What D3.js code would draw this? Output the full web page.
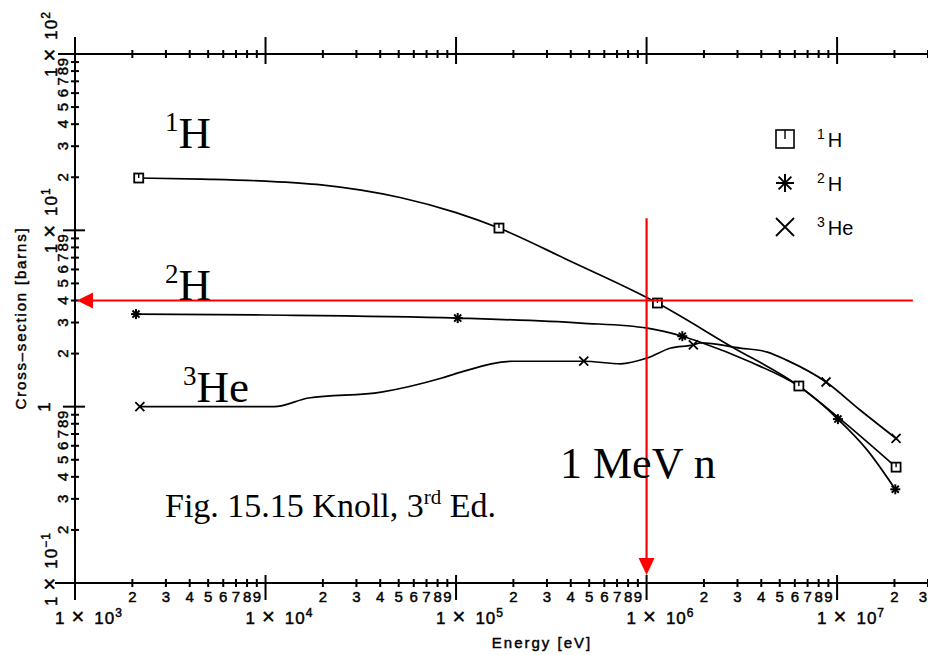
<!DOCTYPE html>
<html>
<head>
<meta charset="utf-8">
<script src="https://cdn.jsdelivr.net/npm/d3@7"></script>
<style>
  body { margin: 0; background: #fff; }
  svg { display: block; }
</style>
</head>
<body>
<svg id="chart" width="928" height="655"></svg>
<script>
// measured points (energy in eV, cross-section in barns)
const h1E = [2.16e3, 1.68e5, 1.14e6, 6.3e6, 2.04e7]
const h1S = [19.8, 10.3, 3.87, 1.31, 0.454]
const h2E = [2.09e3, 1.02e5, 1.54e6, 1.01e7, 2.02e7]
const h2S = [3.35, 3.18, 2.51, 0.85, 0.34]
const he3E = [2.19e3, 4.68e5, 1.76e6, 8.75e6, 2.04e7]
const he3S = [1.0, 1.81, 2.24, 1.38, 0.66]

// the drawn curves
const h1LineE = [2.16e3, 4.6e3, 1e4, 1.96e4, 3.18e4, 5.15e4, 1e5, 1.68e5, 3.86e5, 1.14e6, 2.75e6, 6.3e6, 1.01e7, 2.04e7]
const h1LineS = [19.8, 19.5, 19.0, 18.1, 16.9, 15.3, 12.6, 10.3, 6.79, 3.87, 2.21, 1.31, 0.873, 0.454]
const h2LineE = [2.09e3, 1e4, 1.02e5, 4.51e5, 1.01e6, 1.54e6, 1.92e6, 3.51e6, 6.4e6, 1.01e7, 1.44e7, 2.02e7]
const h2LineS = [3.35, 3.31, 3.18, 2.98, 2.79, 2.51, 2.32, 1.79, 1.29, 0.85, 0.567, 0.34]
const he3LineE = [2.19e3, 1.11e4, 1.68e4, 4.05e4, 8.34e4, 1.06e5, 2.01e5, 4.68e5, 7.31e5, 1.01e6, 1.34e6, 1.76e6, 1.92e6, 3.1e6, 4.3e6, 5.47e6, 8.75e6, 1.32e7, 2.04e7]
const he3LineS = [1.0, 1.0, 1.12, 1.21, 1.45, 1.57, 1.81, 1.81, 1.75, 1.89, 2.15, 2.24, 2.3, 2.15, 2.04, 1.83, 1.38, 0.957, 0.66]

// legend
const legendSup = ["1", "2", "3"]
const legendBase = ["H", "H", "He"]
const legendSymbols = ["square", "asterisk", "cross"]

// axes
const xDecades = [1e3, 1e4, 1e5, 1e6, 1e7]
const xExponents = ["3", "4", "5", "6", "7"]
const yDecades = [0.1, 1, 10, 100]
const yExponents = ["\u22121", "", "1", "2"]
const minorDigits = [2, 3, 4, 5, 6, 7, 8, 9]

// red annotation: 1 MeV neutron -> ~4 barns
const markEnergy = 1e6
const markSigma = 4
const arrowEndE = 2.5e7
const arrowTopS = 11.7
const arrowTipS = 0.111

const svg = d3.select("#chart")
const sans = "'Liberation Sans', Arial, sans-serif"
const serif = "'Liberation Serif', 'Times New Roman', serif"

const x = d3.scaleLog().domain([1e3, 3e7]).range([75, 928])
const y = d3.scaleLog().domain([0.1, 100]).range([583, 54])

const x0 = x(1e3), xEnd = 928
const yBot = y(0.1), yTop = y(100)

const ax = svg.append("g").attr("stroke", "#000").attr("stroke-width", 2).attr("fill", "none")

// axis lines
ax.append("line").attr("x1", x0 - 20).attr("x2", xEnd).attr("y1", yBot).attr("y2", yBot)
ax.append("line").attr("x1", x0 - 17).attr("x2", xEnd).attr("y1", yTop).attr("y2", yTop)
ax.append("line").attr("x1", x0).attr("x2", x0).attr("y1", yTop - 17).attr("y2", yBot + 17)

// x ticks (bottom + top)
const xMinor = []
xDecades.forEach(d => minorDigits.forEach(k => { if (k * d <= 3e7) xMinor.push({ v: k * d, k: k }) }))

ax.selectAll(".xmaj").data(xDecades).enter().append("g").each(function (d) {
  const g = d3.select(this)
  g.append("line").attr("x1", x(d)).attr("x2", x(d)).attr("y1", yBot - 8).attr("y2", yBot + 17)
  g.append("line").attr("x1", x(d)).attr("x2", x(d)).attr("y1", yTop - 17).attr("y2", yTop + 10)
})
ax.selectAll(".xmin").data(xMinor).enter().append("g").each(function (d) {
  const g = d3.select(this)
  g.append("line").attr("x1", x(d.v)).attr("x2", x(d.v)).attr("y1", yBot - 4).attr("y2", yBot + 4)
  g.append("line").attr("x1", x(d.v)).attr("x2", x(d.v)).attr("y1", yTop - 4).attr("y2", yTop + 4)
})

// y ticks
const yMinor = []
yDecades.slice(0, 3).forEach(d => minorDigits.forEach(k => yMinor.push({ v: k * d, k: k })))

ax.selectAll(".ymaj").data(yDecades).enter().append("line")
  .attr("x1", x0 - 12).attr("x2", x0 + 10).attr("y1", d => y(d)).attr("y2", d => y(d))
ax.selectAll(".ymin").data(yMinor).enter().append("line")
  .attr("x1", x0 - 4).attr("x2", x0 + 4).attr("y1", d => y(d.v)).attr("y2", d => y(d.v))

// tick labels
const lab = svg.append("g").attr("font-family", sans).attr("fill", "#000")
  .attr("stroke", "#000").attr("stroke-width", 0.45)

lab.selectAll(".xd").data(xMinor).enter().append("text")
  .attr("x", d => x(d.v) > 918 ? 927 : x(d.v)).attr("y", yBot + 19)
  .attr("text-anchor", d => x(d.v) > 918 ? "end" : "middle").attr("font-size", 15)
  .text(d => d.k)

const xl = lab.selectAll(".xl").data(xDecades).enter().append("text")
  .attr("x", d => x(d) - 20).attr("y", yBot + 41)
  .attr("font-size", 17).attr("letter-spacing", 1)
xl.append("tspan").text("1")
xl.append("tspan").attr("dx", 6).attr("font-size", 22).text("\u00d7")
xl.append("tspan").attr("dx", 9).text("10")
xl.append("tspan").attr("dy", -7).attr("font-size", 12).text((d, i) => xExponents[i])

lab.selectAll(".yd").data(yMinor).enter().append("text")
  .attr("transform", d => `translate(${x0 - 7},${y(d.v)}) rotate(-90)`)
  .attr("text-anchor", "middle").attr("font-size", 15)
  .text(d => d.k)

const yl = lab.selectAll(".yl").data(yDecades).enter().append("text")
  .attr("transform", d => d === 1
    ? `translate(${x0 - 25},${y(d) + 5}) rotate(-90)`
    : `translate(${x0 - 18},${y(d) + 23}) rotate(-90)`)
  .attr("font-size", 17).attr("letter-spacing", 1)
yl.append("tspan").text("1")
yl.append("tspan").attr("dx", 5).attr("font-size", 22).text(d => d === 1 ? "" : "\u00d7")
yl.append("tspan").attr("dx", 8).text(d => d === 1 ? "" : "10")
yl.append("tspan").attr("dy", -7).attr("font-size", 12).text((d, i) => yExponents[i])

lab.append("text").attr("x", 542).attr("y", 648).attr("text-anchor", "middle")
  .attr("font-size", 15).attr("letter-spacing", 2).attr("xml:space", "preserve").text("Energy [eV]")
lab.append("text").attr("transform", "translate(26,318) rotate(-90)").attr("text-anchor", "middle")
  .attr("font-size", 15).attr("letter-spacing", 1.8).attr("xml:space", "preserve").text("Cross\u2013section [barns]")

// curves
const line = d3.line().x(d => x(d[0])).y(d => y(d[1])).curve(d3.curveMonotoneX)
const curves = [
  d3.zip(h1LineE, h1LineS),
  d3.zip(h2LineE, h2LineS),
  d3.zip(he3LineE, he3LineS)
]
svg.append("g").selectAll("path").data(curves).enter().append("path")
  .attr("d", line).attr("fill", "none").attr("stroke", "#000").attr("stroke-width", 1.7)

// marker symbols
function drawSymbol(g, type, cx, cy, s) {
  const h = s / 2
  if (type === "square") {
    g.append("rect").attr("x", cx - h).attr("y", cy - h).attr("width", s).attr("height", s)
      .attr("fill", "#fff").attr("stroke", "#000").attr("stroke-width", s > 10 ? 1.6 : 1.8)
    g.append("line").attr("x1", cx).attr("x2", cx).attr("y1", cy - h).attr("y2", cy)
      .attr("stroke", "#000").attr("stroke-width", 1.4)
  } else if (type === "asterisk") {
    [0, 45, 90, 135].forEach(a => {
      const r = a * Math.PI / 180
      g.append("line").attr("x1", cx - h * Math.cos(r)).attr("y1", cy - h * Math.sin(r))
        .attr("x2", cx + h * Math.cos(r)).attr("y2", cy + h * Math.sin(r))
        .attr("stroke", "#000").attr("stroke-width", 2)
    })
  } else {
    g.append("path").attr("d", `M${cx - h},${cy - h}L${cx + h},${cy + h}M${cx - h},${cy + h}L${cx + h},${cy - h}`)
      .attr("stroke", "#000").attr("stroke-width", 1.8).attr("fill", "none")
  }
}

const marks = svg.append("g")
const pointSets = [d3.zip(h1E, h1S), d3.zip(h2E, h2S), d3.zip(he3E, he3S)]
pointSets.forEach((pts, i) => {
  pts.forEach(p => drawSymbol(marks, legendSymbols[i], x(p[0]), y(p[1]), i === 1 ? 10 : 9))
})

// legend
const leg = svg.append("g")
legendSymbols.forEach((t, i) => {
  const cy = 139 + i * 44
  drawSymbol(leg, t, 785, cy, 18)
  const tx = leg.append("text").attr("x", 817).attr("y", cy + 8)
    .attr("font-family", sans).attr("font-size", 20)
  tx.append("tspan").attr("dy", -8).attr("font-size", 14).text(legendSup[i])
  tx.append("tspan").attr("dx", 3).attr("dy", 8).text(legendBase[i])
})

// red annotation arrows
const red = "#ff0000"
const ann = svg.append("g")
ann.append("line").attr("x1", x0 + 14).attr("x2", x(arrowEndE))
  .attr("y1", y(markSigma)).attr("y2", y(markSigma)).attr("stroke", red).attr("stroke-width", 2.2)
ann.append("path")
  .attr("d", `M${x0 + 2},${y(markSigma)}L${x0 + 18},${y(markSigma) - 8}L${x0 + 18},${y(markSigma) + 8}Z`)
  .attr("fill", red)
ann.append("line").attr("x1", x(markEnergy)).attr("x2", x(markEnergy))
  .attr("y1", y(arrowTopS)).attr("y2", y(arrowTipS) - 14).attr("stroke", red).attr("stroke-width", 2.2)
ann.append("path")
  .attr("d", `M${x(markEnergy)},${y(arrowTipS)}L${x(markEnergy) - 8},${y(arrowTipS) - 17}L${x(markEnergy) + 8},${y(arrowTipS) - 17}Z`)
  .attr("fill", red)

// serif annotations
const notes = svg.append("g").attr("font-family", serif).attr("fill", "#000")
function isotope(xp, yp, sup, base) {
  const t = notes.append("text").attr("x", xp).attr("y", yp).attr("font-size", 45)
  t.append("tspan").attr("font-size", 27).attr("dy", -17).text(sup)
  t.append("tspan").attr("dy", 17).text(base)
}
isotope(165, 148, "1", "H")
isotope(165, 300, "2", "H")
isotope(183, 402, "3", "He")

notes.append("text").attr("x", 560).attr("y", 478).attr("font-size", 44).text("1 MeV n")
const fig = notes.append("text").attr("x", 165).attr("y", 517).attr("font-size", 34)
fig.append("tspan").text("Fig. 15.15 Knoll, 3")
fig.append("tspan").attr("font-size", 21).attr("dy", -13).text("rd")
fig.append("tspan").attr("dy", 13).text(" Ed.")
</script>
</body>
</html>
